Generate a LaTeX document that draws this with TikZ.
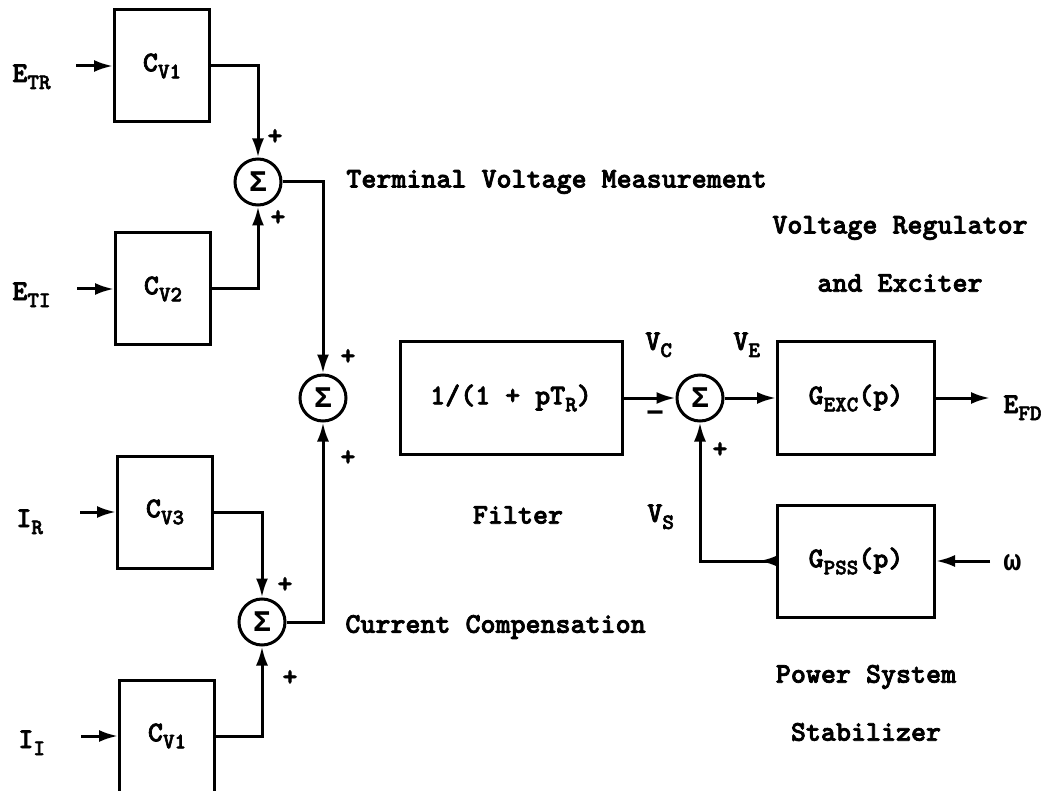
\documentclass[tikz,border=0pt]{standalone}
\usepackage{fontspec}
\newfontfamily\tyfont{lmmonolt10-bold.otf}[FakeBold=2.5]
\newfontfamily\grkfont{Liberation Mono}[BoldFont={Liberation Mono Bold}]
\usetikzlibrary{arrows.meta}
\newcommand{\sbs}[1]{\raisebox{-3.5pt}{\fontsize{11}{11}\selectfont #1}}
\newcommand{\grk}[1]{{\grkfont\bfseries\fontsize{15}{15}\selectfont #1}}
\begin{document}
\begin{tikzpicture}[
    x=0.5pt, y=-0.5pt,
    font=\tyfont\fontsize{14.3}{16}\selectfont,
    blk/.style={draw, line width=1.5pt, minimum width=47.5pt, minimum height=56pt, inner sep=0pt},
    gblk/.style={blk, minimum width=78.5pt},
    sumnode/.style={draw, circle, line width=1.5pt, minimum size=23pt, inner sep=0pt},
    arr/.style={-{Latex[length=9.5pt,width=6pt]}, line width=1.5pt},
    lbl/.style={inner sep=0pt},
]
\useasboundingbox (0,0) rectangle (1055,791);
% ---------------- measurement and compensation blocks ----------------
\node[blk] (cv1) at (162,66) {C\sbs{V1}};
\node[blk] (cv2) at (163,289) {C\sbs{V2}};
\node[blk] (cv3) at (165,512) {C\sbs{V3}};
\node[blk] (cv4) at (167,736) {C\sbs{V1}};
\node[lbl, anchor=base west] (etr) at (12,82) {E\sbs{TR}};
\node[lbl, anchor=base west] (eti) at (12,300) {E\sbs{TI}};
\node[lbl, anchor=base west] (ir) at (16,527) {I\sbs{R}};
\node[lbl, anchor=base west] (ii) at (18,748) {I\sbs{I}};
\coordinate (etr-in) at (76,66);
\coordinate (eti-in) at (77,289);
\coordinate (ir-in) at (80,512);
\coordinate (ii-in) at (81,736);
\draw[arr] (etr-in) -- (cv1);
\draw[arr] (eti-in) -- (cv2);
\draw[arr] (ir-in) -- (cv3);
\draw[arr] (ii-in) -- (cv4);

\node[sumnode] (s1) at (258,182) {\grk{Σ}};
\node[sumnode] (s2) at (262,622) {\grk{Σ}};
\node[sumnode] (s3) at (323,398) {\grk{Σ}};
\draw[arr] (cv1) -| (s1);
\draw[arr] (cv2) -| (s1);
\draw[arr] (cv3) -| (s2);
\draw[arr] (cv4) -| (s2);
\draw[arr] (s1) -| (s3);
\draw[arr] (s2) -| (s3);
\node[lbl] at (275,137) {+};
\node[lbl] at (278,218) {+};
\node[lbl] at (285,585) {+};
\node[lbl] at (290,678) {+};
\node[lbl] at (348,357) {+};
\node[lbl] at (348,458) {+};
\node[lbl, anchor=west] at (346,182) {Terminal Voltage Measurement};
\node[lbl, anchor=west] at (345,627) {Current Compensation};

% ---------------- filter ----------------
\node[blk, minimum width=111pt, minimum height=56.5pt] (flt) at (511,398) {1/(1 + pT\sbs{R})};
\node[lbl] at (518,515) {Filter};

% ---------------- regulator, exciter and stabilizer ----------------
\node[sumnode] (s4) at (700,398) {\grk{Σ}};
\node[gblk] (exc) at (856,398) {G\sbs{EXC}(p)};
\node[gblk] (pss) at (856,561) {G\sbs{PSS}(p)};
\coordinate (efd-out) at (990,398);
\coordinate (w-in) at (990,561);
\draw[arr] (flt) -- (s4);
\draw[arr] (s4) -- (exc);
\draw[arr] (exc) -- (efd-out);
\draw[arr] (w-in) -- (pss);
\draw[arr] (pss) -| (s4);
\draw[arr] (pss.west) -- ++(-17,0);
\node[lbl, anchor=base west] at (645,350) {V\sbs{C}};
\node[lbl, anchor=base west] at (733,350) {V\sbs{E}};
\node[lbl, anchor=base west] at (647,522) {V\sbs{S}};
\node[lbl] at (655,417) {\grk{−}};
\node[lbl] at (720,450) {+};
\node[lbl, anchor=base west] at (1003,413) {E\sbs{FD}};
\node[lbl, anchor=base west] at (1003,570) {\grk{ω}};
\node[lbl] at (900,228) {Voltage Regulator};
\node[lbl] at (900,283) {and Exciter};
\node[lbl] at (866,677) {Power System};
\node[lbl] at (866,732) {Stabilizer};
\end{tikzpicture}
\end{document}
